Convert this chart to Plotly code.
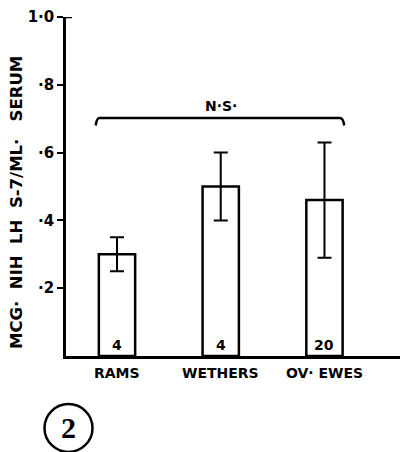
import plotly.graph_objects as go

categories = ["RAMS", "WETHERS", "OV· EWES"]
means = [0.30, 0.50, 0.46]
errors = [0.05, 0.10, 0.17]
counts = ["4", "4", "20"]
ytick_vals = [0.2, 0.4, 0.6, 0.8, 1.0]
ytick_text = ["<b>·2</b>", "<b>·4</b>", "<b>·6</b>", "<b>·8</b>", "<b>1·0</b>"]
x_pos = [0, 1, 2]

FONT = "DejaVu Sans"
fig = go.Figure()
fig.add_trace(go.Bar(
    x=x_pos, y=means, width=0.35,
    marker=dict(color="white", line=dict(color="black", width=2.5)),
    error_y=dict(type="data", array=errors, visible=True, color="black",
                 thickness=2, width=7),
    showlegend=False,
))

annotations = []
for xi, c, n in zip(x_pos, categories, counts):
    annotations.append(dict(x=xi, y=0.004, xref="x", yref="y", text=f"<b>{n}</b>",
                            showarrow=False, yanchor="bottom",
                            font=dict(family=FONT, size=14, color="black")))
    annotations.append(dict(x=xi, y=-0.049, xref="x", yref="paper", text=f"<b>{c}</b>",
                            showarrow=False, yanchor="middle",
                            font=dict(family=FONT, size=14, color="black")))
annotations.append(dict(x=1.0, y=0.737, xref="x", yref="y", text="<b>N·S·</b>",
                        showarrow=False, font=dict(family=FONT, size=14, color="black")))
annotations.append(dict(x=(16 - 66) / 334, y=(356 - 203) / 339, xref="paper", yref="paper",
                        text="<b>MCG·  NIH  LH  S-7/ML·   SERUM</b>", textangle=-90,
                        showarrow=False, xanchor="center", yanchor="middle",
                        font=dict(family=FONT, size=16.5, color="black")))
annotations.append(dict(x=(68.5 - 66) / 334, y=(356 - 428) / 339, xref="paper", yref="paper",
                        text="<b>2</b>", showarrow=False, xanchor="center", yanchor="middle",
                        font=dict(family="Liberation Sans Narrow", size=30, color="black")))

shapes = [
    dict(type="path", xref="x", yref="y",
         path="M -0.205,0.68 Q -0.195,0.702 -0.17,0.702 L 2.15,0.702 Q 2.18,0.702 2.19,0.68",
         line=dict(color="black", width=2.5)),
    dict(type="circle", xref="paper", yref="paper",
         x0=(44.5 - 66) / 334, x1=(92.5 - 66) / 334,
         y0=(356 - 452) / 339, y1=(356 - 404) / 339,
         line=dict(color="black", width=2.5)),
    dict(type="line", xref="paper", yref="y", x0=0, x1=6 / 334, y0=1.0, y1=1.0,
         line=dict(color="black", width=2.5)),
]

fig.update_layout(
    width=400, height=452,
    margin=dict(l=66, r=0, t=17, b=96),
    paper_bgcolor="white", plot_bgcolor="white",
    xaxis=dict(range=[-0.4916, 2.728], showgrid=False, zeroline=False,
               showline=True, linecolor="black", linewidth=2.5,
               showticklabels=False, ticks=""),
    yaxis=dict(range=[0, 1.0], showgrid=False, zeroline=False,
               showline=True, linecolor="black", linewidth=2.5,
               tickvals=ytick_vals, ticktext=ytick_text, ticks="outside",
               ticklen=6, tickwidth=2, tickcolor="black",
               tickfont=dict(family=FONT, size=15, color="black")),
    annotations=annotations, shapes=shapes,
    font=dict(family=FONT, color="black"),
)
fig.write_html("out.html")
